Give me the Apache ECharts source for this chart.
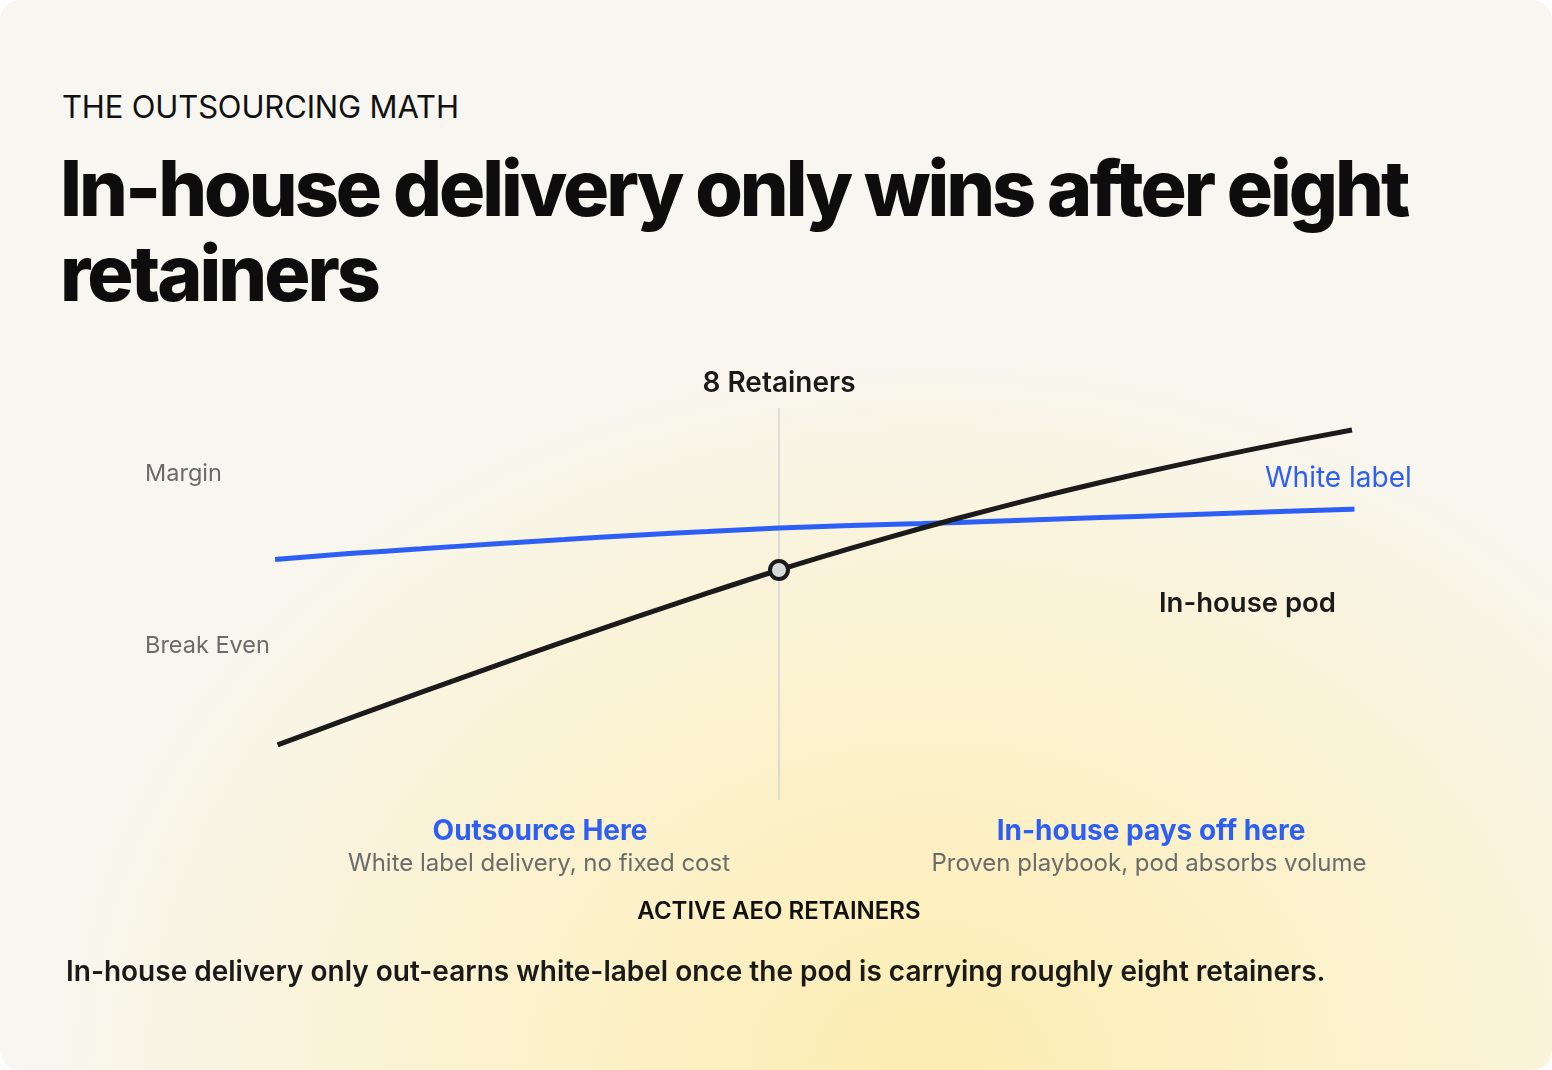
<!DOCTYPE html>
<html>
<head>
<meta charset="utf-8">
<title>The outsourcing math</title>
<script src="https://cdn.jsdelivr.net/npm/echarts@6/dist/echarts.min.js"></script>
<style>
  html, body { margin: 0; padding: 0; background: #ffffff; }
  #card {
    position: relative; width: 1552px; height: 1070px; overflow: hidden;
    border-radius: 20px;
    background: radial-gradient(ellipse 1100px 900px at 60% 100%, #fdedb2 0%, #fbf2d0 45%, #f8f6ee 80%, #f7f6f1 100%);
    font-family: Inter, "Noto Sans", sans-serif;
  }
  #kicker { position: absolute; left: 62px; top: 88px; font-size: 31px; color: #111; letter-spacing: -0.15px; }
  #headline {
    position: absolute; left: 60px; top: 146px; width: 1440px;
    font-size: 77px; font-weight: 800; line-height: 85px; color: #0d0d0d; letter-spacing: -3px;
  }
  #caption { position: absolute; left: 66px; top: 954px; font-size: 28px; font-weight: 600; color: #1a1a1a; letter-spacing: 0; }
  #main { position: absolute; left: 0; top: 0; width: 1552px; height: 1070px; }
</style>
</head>
<body>
<div id="card">
  <div id="kicker">THE OUTSOURCING MATH</div>
  <div id="headline">In-house delivery only wins after eight retainers</div>
  <div id="main"></div>
  <div id="caption">In-house delivery only out-earns white-label once the pod is carrying roughly eight retainers.</div>
</div>
<script>
// active retainers on the x axis
var retainers = [1, 2, 3, 4, 5, 6, 7, 8, 9, 10, 11, 12, 13, 14, 15, 16];
// margin index
var whiteLabel = [60.2, 61.6, 62.8, 64.0, 65.1, 66.2, 67.1, 68.0, 68.6, 69.1, 69.7, 70.3, 70.9, 71.5, 72.1, 72.7];
var inHouse = [13.8, 20.4, 26.9, 33.3, 39.6, 45.7, 51.7, 57.5, 62.9, 68.0, 72.8, 77.3, 81.5, 85.4, 89.1, 92.5];
var yMarkValues = [38.5, 81.5];
var yMarkNames = ['Break Even', 'Margin'];
var breakEvenRetainers = 8;

var blue = '#2e5ff4';
var ink = '#1b1b1b';

function pairs(ys) {
    var out = [];
    for (var i = 0; i < retainers.length; i++) {
        out.push([retainers[i], ys[i]]);
    }
    return out;
}

var mychart = echarts.init(document.querySelector('#main'));
var option = {
    backgroundColor: 'transparent',
    animation: false,
    textStyle: { fontFamily: 'Inter' },
    grid: { left: 206, right: 200, top: 408, bottom: 270 },
    xAxis: {
        type: 'value',
        min: 0,
        max: 16,
        name: 'ACTIVE AEO RETAINERS',
        nameLocation: 'middle',
        nameGap: 100,
        nameTextStyle: { fontSize: 24, fontWeight: 600, color: '#111' },
        axisLine: { show: false },
        axisTick: { show: false },
        axisLabel: { show: false },
        splitLine: { show: false }
    },
    yAxis: {
        type: 'value',
        min: 0,
        max: 98,
        axisLine: { show: false },
        axisTick: { show: false },
        splitLine: { show: false },
        axisLabel: {
            customValues: yMarkValues,
            align: 'left',
            margin: 61,
            fontSize: 23.5,
            color: '#6b6b6b',
            formatter: function (v) {
                var i = yMarkValues.indexOf(v);
                return i >= 0 ? yMarkNames[i] : '';
            }
        }
    },
    series: [
        {
            name: 'White label',
            type: 'line',
            data: pairs(whiteLabel),
            smooth: 0.3,
            symbol: 'none',
            lineStyle: { color: blue, width: 5, cap: 'square' },
            z: 3
        },
        {
            name: 'In-house pod',
            type: 'line',
            data: pairs(inHouse),
            smooth: 0.3,
            symbol: 'none',
            lineStyle: { color: ink, width: 5 },
            z: 4,
            markLine: {
                silent: true,
                symbol: 'none',
                lineStyle: { color: '#d4d4d4', width: 1.5, type: 'solid' },
                label: {
                    position: 'end',
                    distance: 10,
                    formatter: breakEvenRetainers + ' Retainers',
                    fontSize: 28,
                    fontWeight: 600,
                    color: '#1a1a1a'
                },
                data: [{ xAxis: breakEvenRetainers }],
                z: 1
            },
            markPoint: {
                silent: true,
                symbol: 'circle',
                symbolSize: 18,
                itemStyle: { color: '#d9d9d9', borderColor: ink, borderWidth: 4 },
                label: { show: false },
                data: [{ coord: [breakEvenRetainers, inHouse[retainers.indexOf(breakEvenRetainers)]] }]
            }
        }
    ],
    graphic: [
        { type: 'text', left: 1265, top: 465, style: { text: 'White label', fontSize: 28, fill: blue, fontFamily: 'Inter' } },
        { type: 'text', left: 1159, top: 590, style: { text: 'In-house pod', fontSize: 27.5, fontWeight: 600, fill: ink, fontFamily: 'Inter' } },
        { type: 'text', x: 540, y: 832, style: { text: 'Outsource Here', fontSize: 28, fontWeight: 700, fill: blue, align: 'center', verticalAlign: 'middle', fontFamily: 'Inter' } },
        { type: 'text', x: 539, y: 864, style: { text: 'White label delivery, no fixed cost', fontSize: 24, fill: '#6b6b6b', align: 'center', verticalAlign: 'middle', fontFamily: 'Inter' } },
        { type: 'text', x: 1151, y: 832, style: { text: 'In-house pays off here', fontSize: 28, fontWeight: 700, fill: blue, align: 'center', verticalAlign: 'middle', fontFamily: 'Inter' } },
        { type: 'text', x: 1149, y: 864, style: { text: 'Proven playbook, pod absorbs volume', fontSize: 24, fill: '#6b6b6b', align: 'center', verticalAlign: 'middle', fontFamily: 'Inter' } }
    ]
};
mychart.setOption(option);
</script>
</body>
</html>
